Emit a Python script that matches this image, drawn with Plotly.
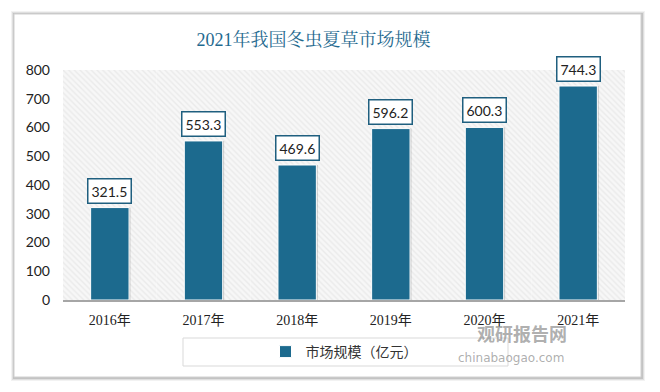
import plotly.graph_objects as go

categories = ["2016年", "2017年", "2018年", "2019年", "2020年", "2021年"]
values = [321.5, 553.3, 469.6, 596.2, 600.3, 744.3]
series_name = "市场规模（亿元）"
title_text = "2021年我国冬虫夏草市场规模"
y_ticks = [0, 100, 200, 300, 400, 500, 600, 700, 800]
Y_MAX = 800

BAR = "#1c6a8e"
TEAL = "#1f5f7f"

W, H = 660, 392
L, R, T, B = 63, 35, 70, 92
pw, ph = W - L - R, H - T - B


def px_x(p):
    return (p - L) / pw


def px_y(p):
    return (H - B - p) / ph


fig = go.Figure()

# hatched plot background
fig.add_trace(go.Bar(
    x=categories, y=[Y_MAX] * len(categories), width=1,
    marker=dict(color="white", line=dict(width=0),
                pattern=dict(shape="\\", fgcolor="#dedede", bgcolor="#f7f7f7", size=4, solidity=0.35)),
    showlegend=False, hoverinfo="skip"))

# soft shadow of bars
fig.add_trace(go.Bar(
    x=categories, y=values, width=0.41, offset=-0.19,
    marker=dict(color="rgba(0,0,0,0.18)", line=dict(width=0)),
    showlegend=False, hoverinfo="skip"))

fig.add_trace(go.Bar(
    x=categories, y=values, width=0.41, offset=-0.205, name=series_name,
    marker=dict(color=BAR, line=dict(color="white", width=1))))

for c, v in zip(categories, values):
    fig.add_annotation(x=c, y=v, xref="x", yref="y", text=f"{v:.1f}", showarrow=False,
                       yanchor="bottom", yshift=4,
                       font=dict(family="Lato, Open Sans, sans-serif", size=14, color="#222"),
                       bgcolor="white", bordercolor=TEAL, borderwidth=1.5, borderpad=3)

# card with shadow
cx0, cx1, cy0, cy1 = 14, 641, 14, 377
shapes = []
for i, op in enumerate([0.05, 0.08, 0.12]):
    d = 4 - i
    shapes.append(dict(type="rect", xref="paper", yref="paper",
                       x0=px_x(cx0 - d + 1), x1=px_x(cx1 + d), y0=px_y(cy1 + d), y1=px_y(cy0 - d + 1),
                       fillcolor=f"rgba(0,0,0,{op})", line=dict(width=0), layer="below"))
shapes.append(dict(type="rect", xref="paper", yref="paper",
                   x0=px_x(cx0), x1=px_x(cx1), y0=px_y(cy1), y1=px_y(cy0),
                   fillcolor="white", line=dict(color="#d0d0d0", width=1), layer="below"))
# legend box
shapes.append(dict(type="rect", xref="paper", yref="paper",
                   x0=px_x(183), x1=px_x(508), y0=px_y(366), y1=px_y(338),
                   fillcolor="rgba(0,0,0,0)", line=dict(color="#d9d9d9", width=1), layer="above"))

fig.add_annotation(xref="paper", yref="paper", x=px_x(568), y=px_y(347), text="<b>观研报告网</b>",
                   showarrow=False, borderpad=0,
                   font=dict(family="Noto Sans CJK SC", size=18, color="rgba(130,130,130,0.65)"))
fig.add_annotation(xref="paper", yref="paper", x=px_x(565), y=px_y(366), text="chinabaogao.com",
                   showarrow=False, borderpad=0,
                   font=dict(family="DejaVu Sans", size=12, color="rgba(130,130,130,0.65)"))

fig.update_layout(
    width=W, height=H,
    margin=dict(l=L, r=R, t=T, b=B),
    paper_bgcolor="white", plot_bgcolor="rgba(0,0,0,0)",
    barmode="overlay",
    title=dict(text=title_text, x=px_x(330), xanchor="center", y=1 - 40 / H, yanchor="middle",
               font=dict(family="Liberation Serif, Noto Serif CJK SC, Noto Sans CJK SC", size=18, color="#1f6a8f")),
    shapes=shapes,
    showlegend=True,
    legend=dict(orientation="h", x=0.5, xanchor="center", y=px_y(352), yanchor="middle",
                font=dict(family="Liberation Serif, Noto Sans CJK SC", size=14, color="#333"),
                bgcolor="rgba(0,0,0,0)", itemwidth=30),
    xaxis=dict(showgrid=False, showline=True, linecolor="#a6a6a6", linewidth=2, ticks="",
               tickfont=dict(family="Liberation Serif, Noto Sans CJK SC", size=14, color="#222"),
               ticklabelstandoff=6, range=[-0.5, 5.5]),
    yaxis=dict(range=[0, Y_MAX], tickvals=y_ticks, showgrid=False, zeroline=False, showline=False,
               tickfont=dict(family="Lato, Open Sans, sans-serif", size=14, color="#222"),
               ticklabelstandoff=12),
)

fig.write_html("out.html", config={"displayModeBar": False},
               post_script="document.body.style.margin='0';")
